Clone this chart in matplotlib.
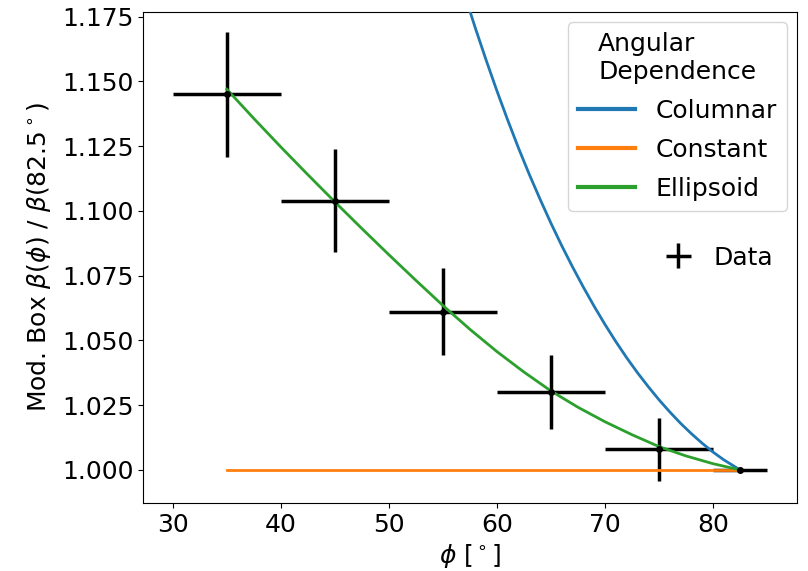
import numpy as np
import matplotlib.pyplot as plt

# measured points (normalised to phi = 82.5 deg)
phi = [35, 45, 55, 65, 75, 82.5]
ratio = [1.145, 1.104, 1.061, 1.030, 1.008, 1.000]
ratio_err = [0.024, 0.020, 0.0168, 0.0142, 0.0122, 0.0]
phi_err = [5, 5, 5, 5, 5, 2.5]

# model curves
columnar_phi = [57, 58, 59, 60, 61, 62, 63, 64, 65, 66, 67, 68, 69, 70,
                71, 72, 73, 74, 75, 76, 77, 78, 79, 80, 81, 82.5]
columnar = [1.1837, 1.1707, 1.1583, 1.1464, 1.1351, 1.1243, 1.1141, 1.1045,
            1.0953, 1.0866, 1.0784, 1.0706, 1.0632, 1.0562, 1.0496, 1.0434,
            1.0376, 1.0322, 1.0271, 1.0224, 1.0180, 1.0140, 1.0103, 1.0069,
            1.0039, 1.0000]

constant_phi = [35, 82.5]
constant = [1.0, 1.0]

ellipsoid_phi = [35, 37.5, 40, 42.5, 45, 47.5, 50, 52.5, 55, 57.5, 60,
                 62.5, 65, 67.5, 70, 72.5, 75, 77.5, 80, 82.5]
ellipsoid = [1.1470, 1.1357, 1.1247, 1.1140, 1.1035, 1.0932, 1.0831, 1.0732,
             1.0635, 1.0543, 1.0457, 1.0378, 1.0305, 1.0242, 1.0186, 1.0136,
             1.0090, 1.0054, 1.0024, 1.0000]

fs = 18
plt.rcParams["font.size"] = fs

fig = plt.figure(figsize=(8.08, 5.71), dpi=100)
ax = fig.add_axes([0.177, 0.119, 0.809, 0.860])

eb = ax.errorbar(phi, ratio, xerr=phi_err, yerr=ratio_err, fmt="none",
                 ecolor="black", elinewidth=2.5, label="Data", zorder=2)

l1, = ax.plot(columnar_phi, columnar, color="C0", lw=2, label="Columnar", zorder=3)
l2, = ax.plot(constant_phi, constant, color="C1", lw=2, label="Constant", zorder=3)
l3, = ax.plot(ellipsoid_phi, ellipsoid, color="C2", lw=2, label="Ellipsoid", zorder=3)
ax.plot(phi, ratio, "o", color="black", ms=4, zorder=4)

ax.set_xlim(27.25, 87.75)
ax.set_ylim(0.9872, 1.1768)
ax.set_yticks([1.000, 1.025, 1.050, 1.075, 1.100, 1.125, 1.150, 1.175])
ax.set_xlabel(r"$\phi$ [$^\circ$]")
ax.set_ylabel(r"Mod. Box $\beta(\phi)$ / $\beta(82.5^\circ)$", labelpad=6)

leg1 = ax.legend(handles=[l1, l2, l3], title="Angular\nDependence",
                 loc="upper right", fontsize=fs, title_fontsize=fs,
                 handlelength=2.3, borderaxespad=0.4, labelspacing=0.6)
leg1.get_title().set_multialignment("left")
for h in leg1.get_lines():
    h.set_linewidth(3)
ax.add_artist(leg1)
ax.legend(handles=[eb], loc="center", bbox_to_anchor=(0.88, 0.50),
          frameon=False, fontsize=fs, handlelength=1.2)

fig.savefig("out.png", dpi=100)
